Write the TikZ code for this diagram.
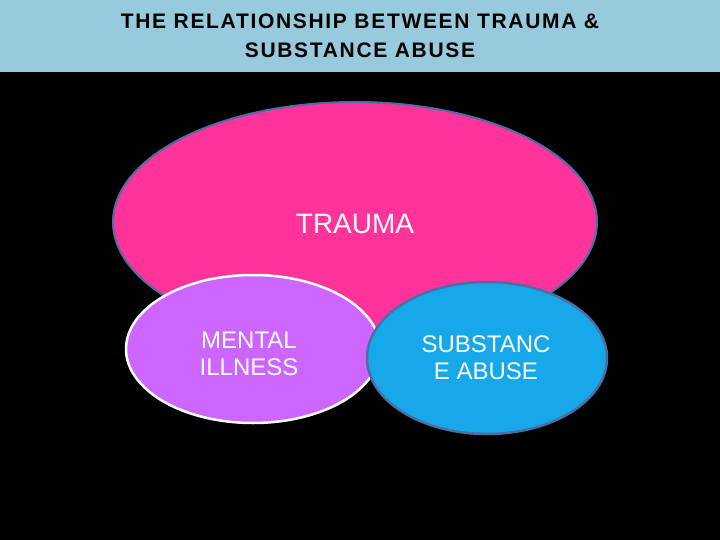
\documentclass[tikz,border=0pt]{standalone}
\usepackage{fontspec}
\setmainfont{Liberation Sans}
\definecolor{titlebg}{HTML}{96CADC}
\definecolor{pinkc}{HTML}{FF3399}
\definecolor{purplec}{HTML}{CC66FF}
\definecolor{bluec}{HTML}{16A8E8}
\definecolor{edgec}{HTML}{4A6FA5}
\begin{document}
\begin{tikzpicture}[x=1pt,y=-1pt,
  lbl/.style={align=center,font=\fontsize{24}{27}\selectfont,text=white},
  ttl/.style={align=center,font=\fontsize{21}{29}\bfseries\addfontfeatures{LetterSpace=8}}]
\fill[black] (0,0) rectangle (720,540);
\useasboundingbox (0,0) rectangle (720,540);
\fill[titlebg] (0,0) rectangle (720,72);
\node[ttl] (title) at (360,36) {THE RELATIONSHIP BETWEEN TRAUMA \&\\SUBSTANCE ABUSE};
\draw[fill=pinkc,draw=edgec,line width=2pt] (355,222) ellipse [x radius=242,y radius=120];
\node[lbl,font=\fontsize{28}{32}\selectfont] (trauma) at (355,224) {TRAUMA};
\draw[fill=purplec,draw=white,line width=2.5pt] (253,349) ellipse [x radius=127,y radius=74];
\node[lbl] (mental) at (249,354) {MENTAL\\ILLNESS};
\draw[fill=bluec,draw=edgec,line width=2.5pt] (487,358) ellipse [x radius=120,y radius=76];
\node[lbl] (subst) at (486,358) {SUBSTANC\\E ABUSE};
\end{tikzpicture}
\end{document}
